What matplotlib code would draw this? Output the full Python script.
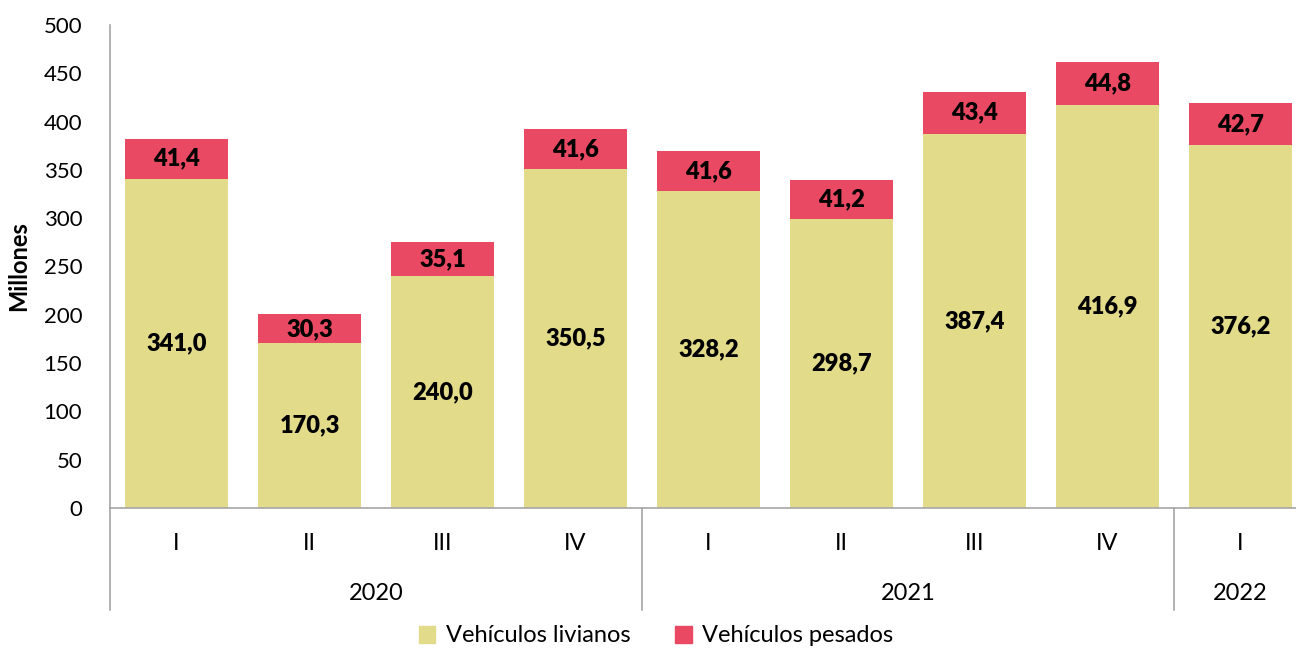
import numpy as np
import matplotlib
matplotlib.use('Agg')
import matplotlib.pyplot as plt
from matplotlib.patches import Patch

plt.rcParams['font.family'] = ['Lato', 'DejaVu Sans']

# data
quarters = ['I', 'II', 'III', 'IV', 'I', 'II', 'III', 'IV', 'I']
years = ['2020', '2021', '2022']
year_counts = [4, 4, 1]
livianos = [341.0, 170.3, 240.0, 350.5, 328.2, 298.7, 387.4, 416.9, 376.2]
pesados = [41.4, 30.3, 35.1, 41.6, 41.6, 41.2, 43.4, 44.8, 42.7]

c_liv = '#E2DB8A'
c_pes = '#E94962'
grey = '#A6A6A6'

fig = plt.figure(figsize=(12.96, 6.48), dpi=100)
ax = fig.add_axes([110/1296, 1 - 508/648, 1197/1296, 483/648])

x = np.arange(len(quarters))
ax.bar(x, livianos, width=0.77, color=c_liv, zorder=2)
ax.bar(x, pesados, width=0.77, bottom=livianos, color=c_pes, zorder=2)

fmt = lambda v: f'{v:.1f}'.replace('.', ',')
for xi, l, p in zip(x, livianos, pesados):
    ax.text(xi, l / 2, fmt(l), ha='center', va='center', fontsize=17, fontweight='heavy')
    ax.text(xi, l + p / 2, fmt(p), ha='center', va='center', fontsize=17, fontweight='heavy')

ax.set_xlim(-0.5, len(quarters) - 0.5)
ax.set_ylim(0, 500)
ax.set_yticks(range(0, 501, 50))
ax.tick_params(axis='y', length=0, labelsize=16, pad=20)
ax.set_xticks([])
for s in ['top', 'right']:
    ax.spines[s].set_visible(False)
for s in ['left', 'bottom']:
    ax.spines[s].set_color(grey)
    ax.spines[s].set_linewidth(1.2)
ax.set_ylabel('Millones', fontsize=17, fontweight='bold', labelpad=10)

# category axis: quarters and years
trans = ax.get_xaxis_transform()
for xi, q in zip(x, quarters):
    ax.text(xi, -35 / 483, q, transform=trans, ha='center', va='center', fontsize=17)
start = 0
for yr, n in zip(years, year_counts):
    ax.plot([start - 0.5, start - 0.5], [0, -102 / 483], transform=trans,
            color=grey, lw=1.2, clip_on=False)
    ax.text(start - 0.5 + n / 2, -85 / 483, yr, transform=trans, ha='center',
            va='center', fontsize=17)
    start += n
ax.plot([start - 0.5, start - 0.5], [0, -102 / 483], transform=trans,
        color=grey, lw=1.2, clip_on=False)

handles = [Patch(color=c_liv, label='Vehículos livianos'),
           Patch(color=c_pes, label='Vehículos pesados')]
fig.legend(handles=handles, loc='center', bbox_to_anchor=(656/1296, 1 - 636/648),
           ncol=2, frameon=False, fontsize=17, handlelength=0.7, handleheight=0.7,
           handletextpad=0.45, columnspacing=1.9, borderpad=0)

fig.savefig('out.png', dpi=100)
